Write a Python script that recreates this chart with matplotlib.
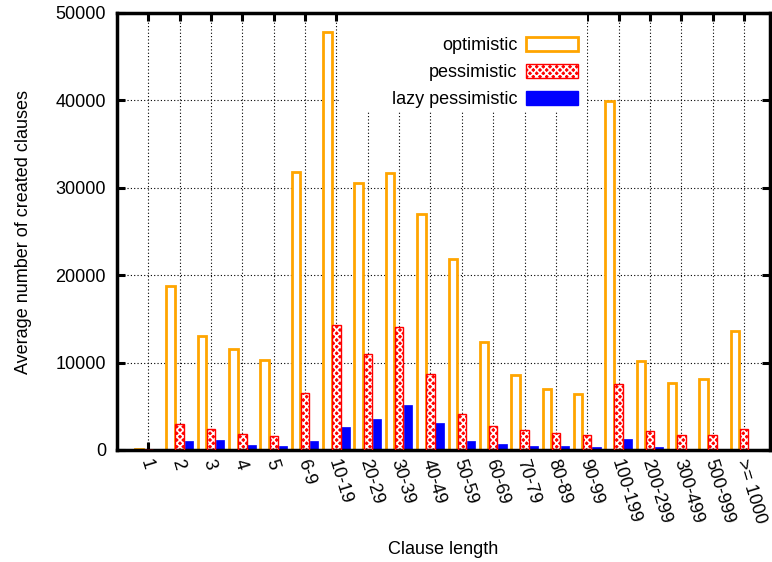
import matplotlib
matplotlib.use("Agg")
import matplotlib.pyplot as plt
import matplotlib.transforms as mtransforms
from matplotlib.patches import Patch, Rectangle
import numpy as np

plt.rcParams['font.family'] = ['Liberation Sans', 'DejaVu Sans']
plt.rcParams['hatch.linewidth'] = 1.2

categories = ["1", "2", "3", "4", "5", "6-9", "10-19", "20-29", "30-39", "40-49",
              "50-59", "60-69", "70-79", "80-89", "90-99", "100-199", "200-299",
              "300-499", "500-999", ">= 1000"]
optimistic = [150, 18800, 13000, 11500, 10300, 31800, 47800, 30500, 31700, 27000,
              21850, 12400, 8550, 6950, 6400, 39900, 10150, 7700, 8100, 13600]
pessimistic = [0, 2950, 2400, 1800, 1600, 6500, 14250, 10950, 14100, 8750,
               4100, 2750, 2300, 2000, 1700, 7600, 2150, 1700, 1700, 2450]
lazy_pessimistic = [0, 1050, 1200, 550, 450, 1050, 2600, 3500, 5200, 3100,
                    1050, 650, 500, 450, 350, 1300, 300, 100, 50, 50]

fs = 13

fig = plt.figure(figsize=(7.72, 5.62), dpi=100)
ax = fig.add_axes([117/772, 1 - 450/562, 653/772, 437/562])

x = np.arange(len(categories))
w = 0.27
off = 0.29

ax.bar(x - off, optimistic, w, facecolor='white', edgecolor='#ffa500', linewidth=2, zorder=2)
ax.bar(x, pessimistic, w, facecolor='#ff0000', edgecolor='white', hatch='xxxxx', linewidth=0, zorder=2)
ax.bar(x, pessimistic, w, facecolor='none', edgecolor='#ff0000', linewidth=1, zorder=3)
ax.bar(x + off, lazy_pessimistic, w, facecolor='#0000ff', edgecolor='#0000ff', linewidth=0.5, zorder=2)

ax.set_xlim(-1, 19.83)
ax.set_ylim(0, 50000)
ax.set_xticks(x)
ax.set_xticklabels(categories, rotation=-73, ha='left', va='top', rotation_mode='anchor', fontsize=fs)
ax.set_yticks(np.arange(0, 50001, 10000))
ax.tick_params(axis='y', labelsize=fs, pad=8)
ax.tick_params(direction='in', length=6, width=2.2, top=True, right=True)
ax.tick_params(axis='x', pad=5)
shift = mtransforms.ScaledTranslation(5/100, 0, fig.dpi_scale_trans)
for lab in ax.get_xticklabels():
    lab.set_transform(lab.get_transform() + shift)
for s in ax.spines.values():
    s.set_linewidth(2.5)

ax.set_axisbelow(True)
ax.grid(True, linestyle=(0, (1, 2)), color='black', linewidth=0.8)

# white area behind the key
ax.add_patch(Rectangle((223/653, 338/437), 247/653, 1 - 338/437, transform=ax.transAxes,
                       facecolor='white', edgecolor='none', zorder=1.5))

h_opt = Patch(facecolor='white', edgecolor='#ffa500', linewidth=2)
h_pes = (Patch(facecolor='#ff0000', edgecolor='white', hatch='xxxxx', linewidth=0),
         Patch(facecolor='none', edgecolor='#ff0000', linewidth=1))
h_lazy = Patch(facecolor='#0000ff', edgecolor='#0000ff')
ax.legend([h_opt, h_pes, h_lazy], ["optimistic", "pessimistic", "lazy pessimistic"],
          loc='upper right', bbox_to_anchor=(461/653, 413/437), frameon=False,
          markerfirst=False, fontsize=fs, handlelength=2.9, handleheight=0.8,
          handletextpad=0.45, labelspacing=0.55, borderpad=0, borderaxespad=0)

ax.set_xlabel("Clause length", fontsize=fs)
ax.set_ylabel("Average number of created clauses", fontsize=fs)
ax.xaxis.set_label_coords(0.5, -(549 - 450) / 437)
ax.yaxis.set_label_coords(-(117 - 23) / 653, 0.5)
ax.xaxis.label.set_va('center')
ax.yaxis.label.set_va('center')

fig.savefig("out.png", dpi=100)
